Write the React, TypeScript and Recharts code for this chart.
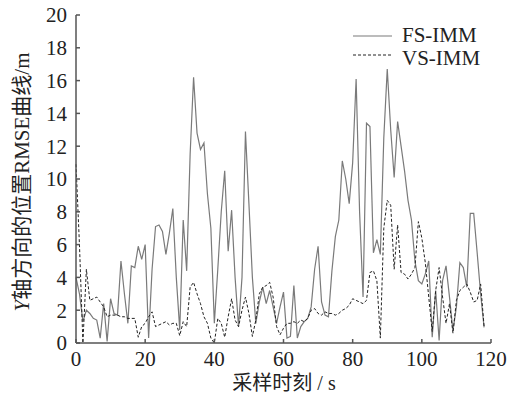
import { LineChart, Line, XAxis, YAxis } from 'recharts';

// RMSE samples, one per second (t = 0..118)
const fsImm = [
  4.0, 3.0, 1.3, 2.0, 1.8, 1.5, 1.4, 0.3, 2.4, 0.1,
  2.7, 1.8, 1.7, 5.0, 3.0, 1.2, 4.7, 4.6, 5.9, 5.1,
  6.0, 0.3, 4.5, 7.1, 7.2, 6.8, 5.4, 6.7, 8.2, 4.0,
  0.8, 7.5, 4.4, 11.5, 16.2, 12.8, 11.8, 12.2, 9.1, 7.0,
  1.2, 4.5, 8.0, 10.5, 5.6, 8.1, 4.0, 1.0, 4.0, 12.9,
  8.5, 4.0, 1.2, 2.5, 3.4, 2.4, 3.2, 2.2, 1.2, 2.2,
  3.1, 0.3, 0.4, 3.5, 0.3, 1.0, 1.3, 1.5, 2.2, 4.5,
  5.9, 2.5, 1.7, 1.6, 4.4, 6.5, 7.5, 11.1, 10.0, 8.5,
  11.0, 16.1, 8.0, 2.8, 13.4, 13.2, 5.5, 6.3, 5.4, 12.5,
  16.7, 13.0, 10.1, 13.5, 12.0, 10.5, 8.7, 7.5, 5.0, 3.8,
  3.6, 4.2, 5.0, 0.35, 3.2, 0.15, 3.8, 4.7, 2.8, 0.75,
  2.2, 4.9, 4.6, 3.4, 7.9, 7.9, 5.5, 3.0, 0.95,
];

const vsImm = [
  10.9, 6.0, 0.0, 4.5, 2.6, 2.7, 2.8, 2.5, 2.2, 1.6,
  1.7, 1.7, 1.7, 1.6, 1.6, 1.5, 1.5, 1.5, 0.35, 1.0,
  1.2, 1.6, 1.9, 1.0, 1.1, 1.2, 1.3, 1.1, 1.2, 1.2,
  0.45, 1.3, 1.0, 3.4, 3.7, 3.0, 2.4, 1.6, 1.2, 0.3,
  0.0, 1.5, 1.2, 0.35, 1.6, 2.7, 1.4, 1.0, 2.0, 2.8,
  1.8, 0.4, 1.4, 3.0, 3.4, 3.5, 3.7, 2.8, 1.0, 0.5,
  0.9, 1.2, 1.2, 1.3, 1.2, 1.4, 1.3, 1.5, 2.0, 2.1,
  1.8, 1.7, 1.9, 1.8, 1.8, 1.7, 1.8, 2.0, 2.1, 2.3,
  2.7, 2.6, 2.5, 2.4, 2.6, 4.3, 4.4, 3.8, 0.3, 7.0,
  8.7, 8.4, 4.5, 7.2, 4.3, 4.2, 3.9, 4.2, 4.6, 7.4,
  6.4, 4.9, 2.8, 0.7, 3.2, 4.6, 2.8, 1.2, 2.4, 0.6,
  2.6, 3.2, 3.4, 3.6, 3.1, 2.5, 2.6, 3.6, 1.0,
];

const xTicks = [0, 20, 40, 60, 80, 100, 120];
const yTicks = [0, 2, 4, 6, 8, 10, 12, 14, 16, 18, 20];

const data = fsImm.map((v, i) => ({ t: i, fs: v, vs: vsImm[i] }));

const serif = "'Liberation Serif', 'Times New Roman', serif";
const cjk = "'Liberation Serif', 'Noto Sans CJK SC', serif";
const tickStyle = { fontFamily: serif, fontSize: 21, fill: '#222' };

export default function App() {
  return (
    <div style={{ position: 'absolute', left: 0, top: 0, width: 519, height: 398, background: '#fff' }}>
      <LineChart width={519} height={398} data={data} margin={{ top: 15, right: 28, bottom: 25, left: 16 }}>
        <XAxis dataKey="t" type="number" domain={[0, 120]} ticks={xTicks} height={30}
          tick={tickStyle} tickSize={-4} tickMargin={12} stroke="#555" strokeWidth={1.5} interval={0} />
        <YAxis type="number" domain={[0, 20]} ticks={yTicks} width={60}
          tick={tickStyle} tickSize={-4} tickMargin={13} stroke="#555" strokeWidth={1.5} interval={0} />
        <Line type="linear" dataKey="fs" stroke="#7a7a7a" strokeWidth={1.2} dot={false} isAnimationActive={false} />
        <Line type="linear" dataKey="vs" stroke="#222" strokeWidth={1} strokeDasharray="3 2" dot={false} isAnimationActive={false} />
      </LineChart>
      <svg width={519} height={398} style={{ position: 'absolute', left: 0, top: 0, pointerEvents: 'none' }}>
        <line x1={353} y1={36} x2={392} y2={36} stroke="#7a7a7a" strokeWidth={1.2} />
        <line x1={353} y1={55} x2={392} y2={55} stroke="#222" strokeWidth={1} strokeDasharray="3 2" />
        <text x={402} y={42} fontFamily={serif} fontSize={21} fill="#222">FS-IMM</text>
        <text x={402} y={65} fontFamily={serif} fontSize={21} fill="#222">VS-IMM</text>
        <text x={284} y={390} textAnchor="middle" fontFamily={cjk} fontSize={20} fill="#222">采样时刻 / s</text>
        <text transform="translate(29,182) rotate(-90)" textAnchor="middle" fontFamily={cjk} fontSize={21} fill="#222">
          <tspan fontStyle="italic">Y</tspan>轴方向的位置RMSE曲线/m
        </text>
      </svg>
    </div>
  );
}
